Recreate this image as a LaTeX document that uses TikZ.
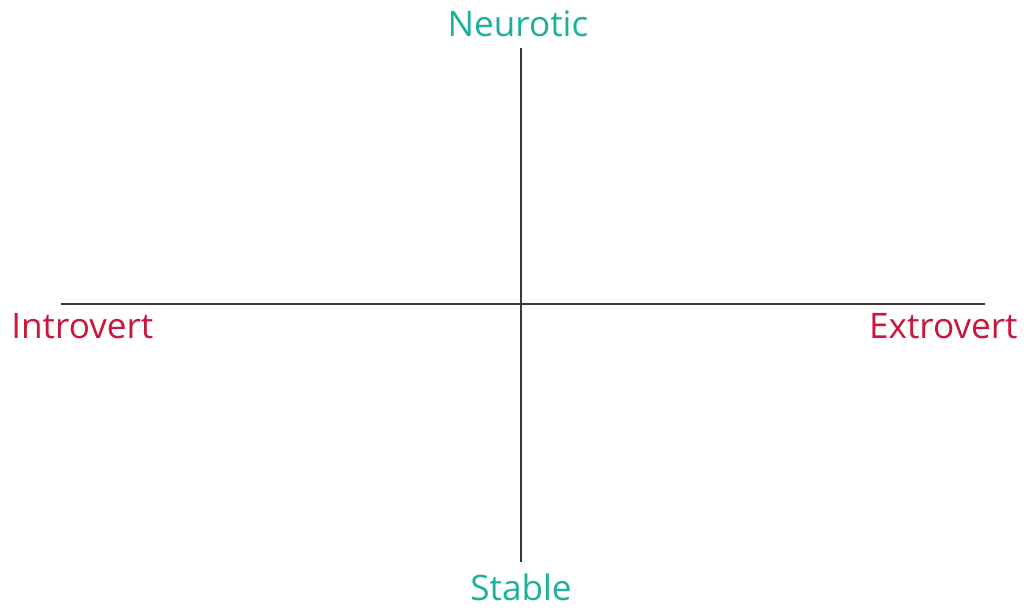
\documentclass[tikz,border=0pt]{standalone}
\usepackage{fontspec}
\setmainfont{Open Sans}
\definecolor{axisgrey}{HTML}{3C3537}
\definecolor{tealc}{HTML}{1BB19D}
\definecolor{redc}{HTML}{C9163A}
\begin{document}
\begin{tikzpicture}[x=0.02cm,y=-0.02cm,
  axis/.style={draw=axisgrey,line width=1.1pt},
  lbl/.style={inner sep=0pt,font=\fontsize{20}{24}\selectfont}]
\useasboundingbox (0,0) rectangle (1028,609);
\coordinate (top) at (521,48);
\coordinate (bot) at (521,562);
\coordinate (lft) at (61,304);
\coordinate (rgt) at (985,304);
\draw[axis] (top) -- (bot);
\draw[axis] (lft) -- (rgt);
\node[lbl,text=tealc,anchor=base] (neur) at (518,36) {Neurotic};
\node[lbl,text=tealc,anchor=base] (stab) at (521,600) {Stable};
\node[lbl,text=redc,anchor=base west] (intro) at (11,338) {Introvert};
\node[lbl,text=redc,anchor=base east] (extro) at (1018,338) {Extrovert};
\end{tikzpicture}
\end{document}
